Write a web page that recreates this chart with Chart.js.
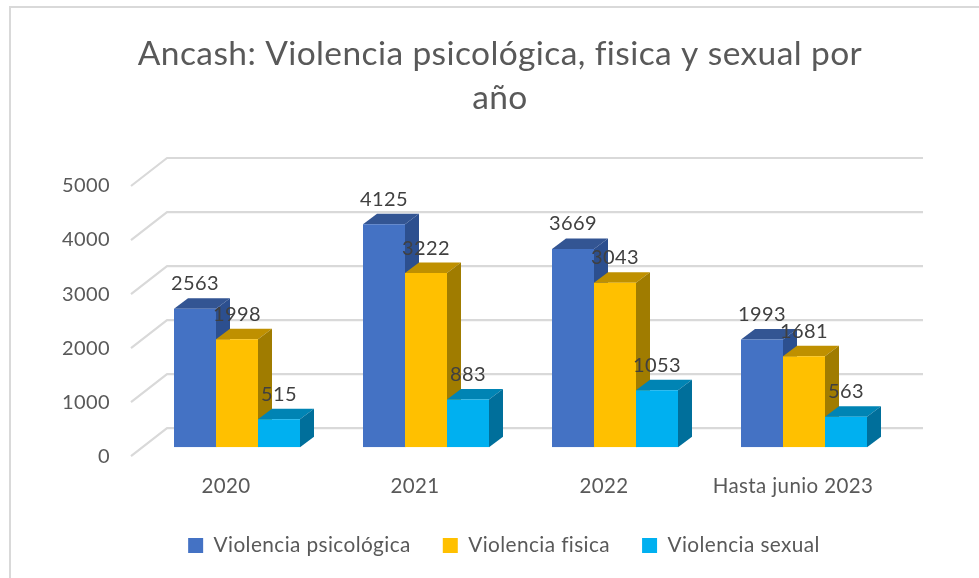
<!DOCTYPE html>
<html>
<head>
<meta charset="utf-8">
<style>html,body{margin:0;padding:0;background:#fff}canvas{display:block}</style>
<script src="https://cdn.jsdelivr.net/npm/chart.js@4"></script>
</head>
<body>
<canvas id="c" width="979" height="578"></canvas>
<script>
const categories = ['2020', '2021', '2022', 'Hasta junio 2023'];
const psicologica = [2563, 4125, 3669, 1993];
const fisica = [1998, 3222, 3043, 1681];
const sexual = [515, 883, 1053, 563];
const gridValues = [0, 1000, 2000, 3000, 4000, 5000];
const seriesNames = ['Violencia psicológica', 'Violencia fisica', 'Violencia sexual'];
const titleLines = ['Ancash: Violencia psicológica, fisica y sexual por', 'año'];

const FONT = 'Lato';
const faces = [
  { front: '#4472C4', top: '#335593', side: '#2C4F8F' },
  { front: '#FFC000', top: '#BF9000', side: '#A07C00' },
  { front: '#00B0F0', top: '#0084B4', side: '#006F9B' }
];
const DX = 14, DY = 10.5;
const SPACING = '0.4px';

const frame = {
  id: 'frame',
  beforeUpdate(chart) { chart.ctx.letterSpacing = SPACING; },
  afterLayout(chart) {
    chart.legend.left += 4;
    chart.legend.right += 4;
  },
  beforeDraw(chart) {
    const c = chart.ctx;
    c.letterSpacing = SPACING;
    c.save();
    c.strokeStyle = '#D9D9D9';
    c.lineWidth = 2;
    c.strokeRect(10, 7, 1100, 900);
    c.restore();
  }
};

const depth = {
  id: 'depth',
  beforeDatasetsDraw(chart) {
    const c = chart.ctx, y = chart.scales.y, a = chart.chartArea;
    c.save();
    c.strokeStyle = '#D9D9D9';
    c.lineWidth = 2.2;
    c.lineJoin = 'round';
    gridValues.forEach(v => {
      const p = y.getPixelForValue(v);
      c.beginPath();
      c.moveTo(a.left - 11.5, p + 9);
      c.lineTo(a.left + 24.5, p - 19);
      c.lineTo(a.right + 24.5, p - 19);
      c.stroke();
    });
    c.restore();
    const base = y.getPixelForValue(0);
    const n = categories.length;
    for (let i = 0; i < n; i++) {
      chart.data.datasets.forEach((ds, d) => {
        const el = chart.getDatasetMeta(d).data[i];
        const w = el.width, l = el.x - w / 2, r = el.x + w / 2, t = el.y;
        c.save();
        c.fillStyle = faces[d].top;
        c.beginPath();
        c.moveTo(l, t); c.lineTo(l + DX, t - DY); c.lineTo(r + DX, t - DY); c.lineTo(r, t);
        c.closePath(); c.fill();
        c.fillStyle = faces[d].side;
        c.beginPath();
        c.moveTo(r, t); c.lineTo(r + DX, t - DY); c.lineTo(r + DX, base - DY); c.lineTo(r, base);
        c.closePath(); c.fill();
        c.restore();
      });
    }
  }
};

const valueLabels = {
  id: 'valueLabels',
  afterDatasetsDraw(chart) {
    const c = chart.ctx;
    c.save();
    c.font = '20px ' + FONT;
    c.fillStyle = '#404040';
    c.textAlign = 'center';
    c.textBaseline = 'middle';
    chart.data.datasets.forEach((ds, d) => {
      chart.getDatasetMeta(d).data.forEach((el, i) => {
        c.fillText(String(ds.data[i]), el.x, el.y - 25);
      });
    });
    c.restore();
  }
};

new Chart(document.getElementById('c'), {
  type: 'bar',
  data: {
    labels: categories,
    datasets: [psicologica, fisica, sexual].map((values, d) => ({
      label: seriesNames[d],
      data: values,
      backgroundColor: faces[d].front,
      borderWidth: 0,
      barPercentage: 1,
      categoryPercentage: 2 / 3
    }))
  },
  options: {
    responsive: false,
    animation: false,
    layout: { padding: { left: 21, right: 0, top: 0, bottom: 12 } },
    plugins: {
      tooltip: { enabled: false },
      title: {
        display: true,
        text: titleLines,
        color: '#595959',
        font: { family: FONT, size: 33.5, weight: 'normal', lineHeight: 44 / 33.5 },
        padding: { top: 32, bottom: 57 }
      },
      legend: {
        position: 'bottom',
        labels: {
          color: '#595959',
          font: { family: FONT, size: 20.8 },
          boxWidth: 15,
          boxHeight: 15,
          padding: 32
        }
      }
    },
    scales: {
      x: {
        offset: true,
        grid: { display: false, drawTicks: false },
        border: { display: false },
        ticks: {
          color: '#595959',
          font: { family: FONT, size: 20.5 },
          padding: 27,
          labelOffset: -11,
          maxRotation: 0,
          autoSkip: false
        },
        afterFit(s) { s.height = 56; }
      },
      y: {
        min: 0,
        max: 5000,
        grid: { display: false, drawTicks: false },
        border: { display: false },
        ticks: {
          color: '#595959',
          font: { family: FONT, size: 20 },
          stepSize: 1000,
          padding: 32.5,
          labelOffset: 9,
          callback: v => String(v)
        },
        afterFit(s) { s.width = 121.5; }
      },
      spacer: {
        position: 'right',
        display: true,
        grid: { display: false, drawTicks: false },
        border: { display: false },
        ticks: { display: false },
        afterFit(s) { s.width = 80.5; }
      }
    }
  },
  plugins: [frame, depth, valueLabels]
});
</script>
</body>
</html>
